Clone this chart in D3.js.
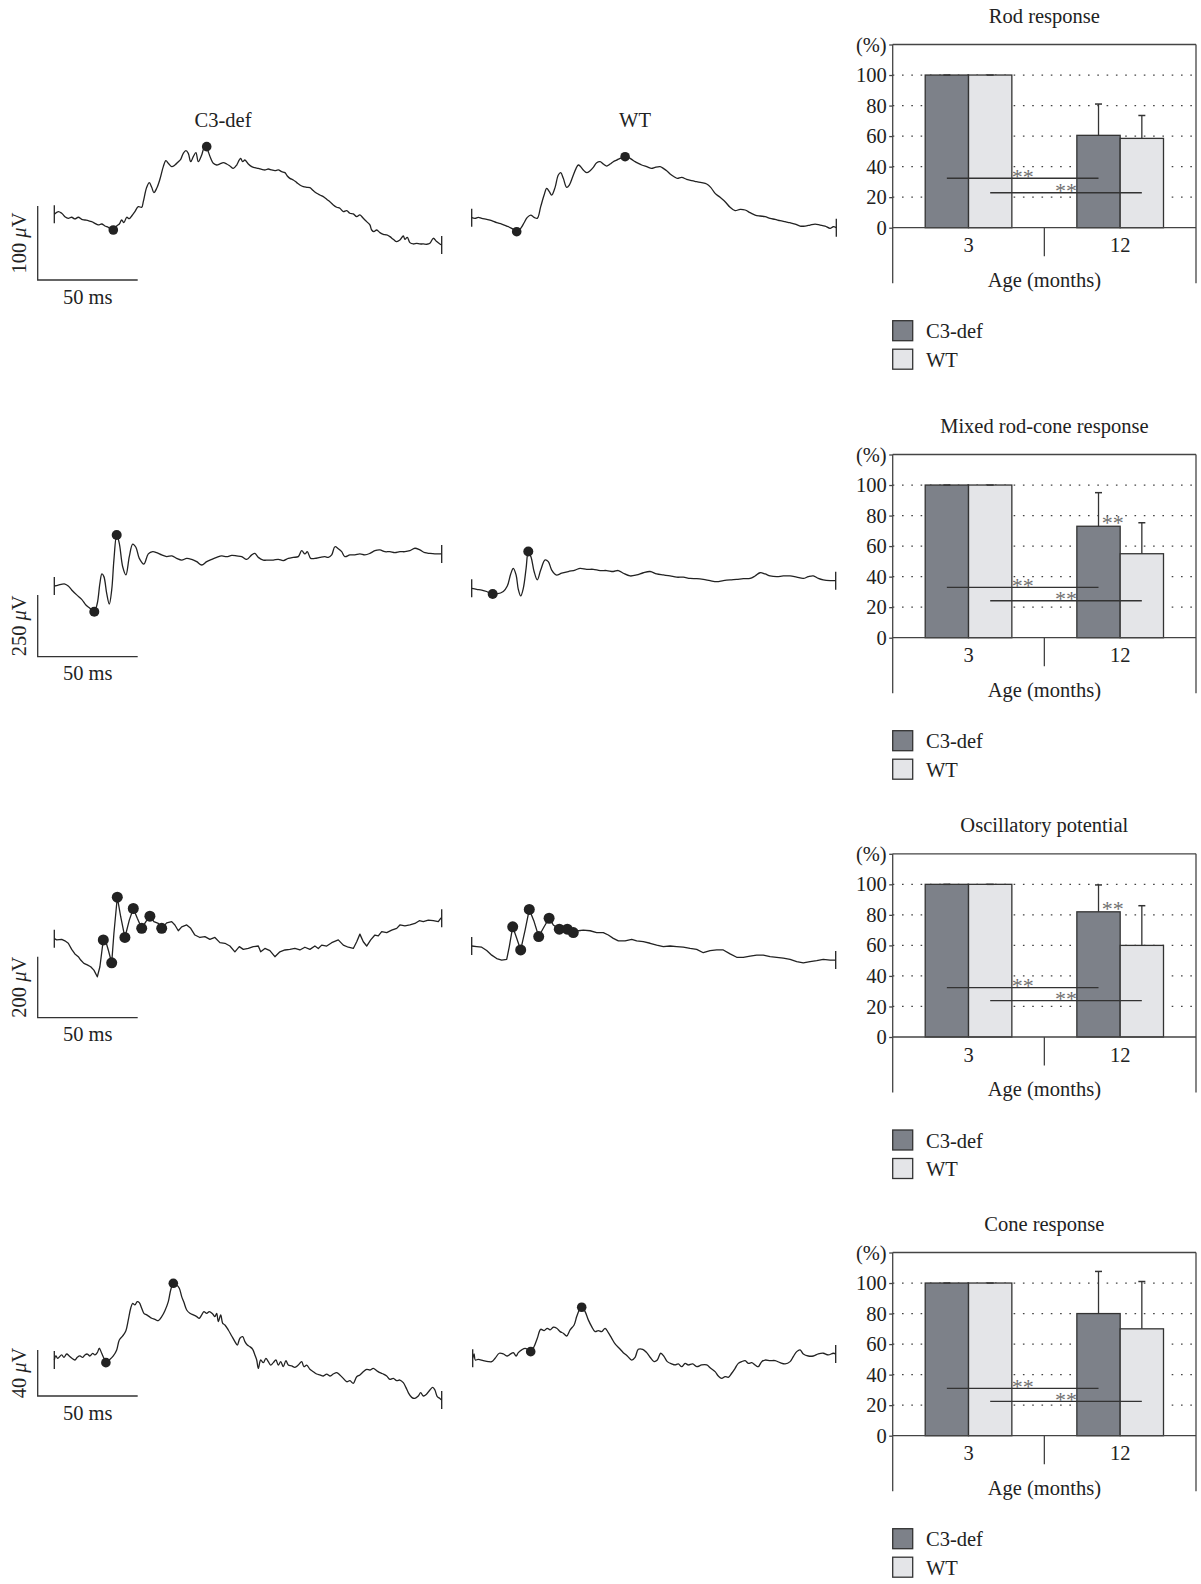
<!DOCTYPE html>
<html>
<head>
<meta charset="utf-8">
<script src="https://cdn.jsdelivr.net/npm/d3@7"></script>
<style>
body { margin:0; background:#fff; }
svg text { font-family: "Liberation Serif", "DejaVu Serif", serif; fill:#222; }
</style>
</head>
<body>
<svg id="fig" width="1201" height="1584"></svg>
<script>
// ---- bar chart data (% of 3 month value) ----
var ageGroups = ["3", "12"];
var genotypes = ["C3-def", "WT"];
var panelTitles = ["Rod response", "Mixed rod-cone response", "Oscillatory potential", "Cone response"];
var c3Mean = [[100, 60.5], [100, 73], [100, 82], [100, 80]];
var wtMean = [[100, 58.5], [100, 55], [100, 60], [100, 70]];
var c3Sd = [[0, 20.5], [0, 22], [0, 17.6], [0, 27.6]];
var wtSd = [[0, 15], [0, 20.3], [0, 26], [0, 31]];
var sigC3 = [32.4, 33, 32.3, 31];      // 3 vs 12 months, C3-def
var sigWT = [22.9, 24.2, 23.8, 22.5];  // 3 vs 12 months, WT
var sigAt12 = ["", "**", "**", ""];    // C3-def vs WT at 12 months
var yTicks = [0, 20, 40, 60, 80, 100, 120];

// ---- ERG traces [ms, µV] ----
var scaleMs = 50;
var scaleUV = [100, 250, 200, 40];

var rodC3 = [[0,0],[2,3.6],[3.7,1.4],[5.3,-3.2],[7,-5.4],[8.7,-4],[10.3,-6.3],[12,-4],[13.7,-6.8],[15.3,-7.7],[17,-8.6],[18.7,-9.9],[20.3,-12.2],[22,-14.4],[23.7,-13.1],[25.3,-15.8],[27,-17.6],[29.5,-21.2],[31.2,-15.8],[32.5,-13.1],[33.7,-7.7],[34.8,-11.3],[36.2,-4],[37.5,-5.9],[38.7,-2.3],[40.3,3.6],[42,10.4],[43.7,9.5],[44.5,17.1],[46.2,36.5],[47.5,42.8],[48.7,36.5],[49.8,29.3],[51.2,35.1],[52.8,47.3],[54.5,64.4],[55.8,72.5],[57,68.9],[58.7,64.4],[60.3,66.6],[62,71.1],[63.2,74.3],[64.5,82.4],[65.8,86],[67,82.4],[68.2,71.1],[69.5,77.9],[70.8,83.3],[72,71.1],[73.7,80.1],[74.8,89.1],[76.2,91.4],[77,84.6],[78.2,75.7],[79.5,68.9],[81.2,66.6],[82.8,68],[84.5,69.8],[86.2,68],[87.8,65.3],[89.5,62.1],[91.2,66.6],[92.5,73.4],[93.2,75.6],[94.2,71.1],[95.3,73.4],[97,68],[98.7,64.4],[100.3,63],[102,62.1],[103.7,60.8],[105.3,59.9],[107,61.2],[108.7,59.9],[110.3,59],[112,59.9],[113.7,57.6],[115.3,56.3],[116.5,51.8],[117.8,48.6],[119.5,46.4],[121.2,42.8],[122.8,39.6],[124.5,37.4],[126.2,36.5],[127.8,36],[129.5,32],[131.2,28.4],[132.8,26.1],[134.5,23.9],[136.2,20.3],[137.8,17.1],[139.5,12.6],[141.2,9.5],[142.8,8.1],[144.5,3.6],[146.2,5],[147.8,1.4],[149.5,0.5],[151.2,-3.2],[152.8,-0.9],[154.5,-5.4],[156.2,-9.9],[157.8,-14.4],[158.7,-21.2],[159.8,-23.4],[161.2,-21.2],[162.8,-24.8],[164.5,-27],[166.2,-27.9],[167.8,-30.2],[169.5,-33.8],[171.2,-36.9],[172.8,-34.7],[174.5,-29.3],[175.3,-33.8],[176.5,-31.1],[177.8,-38.3],[179.5,-40.1],[181.2,-39.2],[182.8,-40.1],[184.5,-40.1],[186.2,-40.5],[187.8,-39.2],[189.5,-32.4],[191.2,-36.9],[192.8,-40.1],[193.7,-41.4]];
var rodC3Marks = [[29.5,-21.2],[76.2,91.4]];

var rodWT = [[0,0],[1.7,-0.9],[3.3,0.5],[5,-0.9],[7.5,-2.3],[10,-4],[12.5,-6.8],[15,-8.6],[17.5,-11.3],[20,-14.4],[22.5,-18.9],[24.5,-14.4],[26.2,-6.8],[27.8,0.5],[29.5,3.6],[31.2,0.5],[32.8,-0.9],[34.5,14.9],[36.2,30.6],[37.5,39.6],[38.8,35.1],[40,30.6],[41.7,41],[43.3,57.7],[44.5,60.8],[45.8,53.2],[47.5,41],[48.8,44.1],[50.5,55.4],[52.2,66.7],[53.3,71.2],[54.5,68.9],[55.8,64.4],[57.5,60.8],[59.2,63.5],[60.8,68],[62.5,74.3],[64.2,75.7],[65.8,72.5],[67.5,69.8],[69.2,72.5],[70.8,75.7],[72.5,77.9],[74.2,80.2],[76.7,82.4],[78.3,81.5],[80,78.8],[81.7,75.7],[83.3,73.4],[85,71.2],[87.5,68.9],[90,66.7],[91.7,68],[94.2,68.9],[95.8,66.7],[97.5,63.5],[99.2,59],[101.2,55.4],[102.8,53.2],[105,54.5],[107.5,51.8],[110,50],[112.5,48.6],[115,47.3],[117.5,45.5],[119.5,41],[121.7,32.9],[124.2,27.5],[126.7,21.6],[129.2,14],[131.7,9.5],[134.2,11.3],[136.7,10.4],[139.2,6.8],[141.7,3.6],[144.2,2.3],[146.7,1.4],[149.2,-0.9],[151.7,-2.3],[154.2,-4],[156.7,-5.4],[159.2,-6.8],[161.7,-8.6],[164.2,-11.3],[166.7,-11.3],[169.2,-9.9],[171.7,-8.6],[174.2,-9.9],[176.7,-11.3],[179.2,-14.4],[180.8,-12.2],[182.3,-13.5]];
var rodWTMarks = [[22.5,-18.9],[76.7,82.4]];

var mixedC3 = [[0,0],[2,4],[5.3,8],[7,0],[8.7,-16],[11.2,-36],[13.7,-54],[15.8,-77],[17.8,-90],[20,-104],[21.5,-70],[22.8,11],[23.8,49],[24.8,38],[26.2,-30],[27.5,-73],[28.7,-16],[29.8,105],[31.2,207],[32.5,173],[34.2,78],[35.8,45],[37.5,119],[39.2,170],[40.8,157],[42.5,112],[44.8,89],[47,130],[49.2,139],[51.2,135],[53.7,126],[56.2,119],[58.8,122],[61.2,112],[63.7,105],[66.2,112],[68.7,108],[71.2,99],[73.7,85],[76.2,99],[78.7,108],[81.2,116],[83.7,122],[86.2,119],[88.7,124],[91.2,122],[93.7,119],[96.2,108],[98.7,126],[100.3,132],[102,116],[104.5,105],[107,105],[109.5,105],[112,108],[114.5,103],[117,112],[119.5,116],[122,119],[123.7,143],[125.3,130],[126.5,139],[128.2,112],[130.3,112],[132.8,116],[135.3,119],[137,116],[138.7,126],[140.3,159],[142,151],[143.7,139],[145.3,119],[147.8,126],[150.3,126],[152.8,130],[155.3,126],[157.8,132],[160.3,143],[162.8,146],[165.3,139],[167.8,139],[170.3,135],[172.8,139],[175.3,139],[177.8,143],[180.3,153],[182.8,146],[185.3,135],[187.8,132],[190.3,130],[192.8,130],[193.7,130]];
var mixedC3Marks = [[20,-104],[31.2,207]];

var mixedWT = [[0,0],[2.5,-4],[5,-7],[7.5,-13],[10,-23],[12.5,-23],[15.8,-13],[17.8,9],[19.5,58],[20.8,81],[22.2,54],[23.3,-4],[24.5,-31],[25.8,0],[27.2,81],[28.3,149],[29.7,126],[31.2,68],[32.8,34],[34.5,74],[36.7,115],[38.3,108],[40,74],[42.2,54],[45,61],[48.3,68],[51.7,74],[54.2,81],[57.5,77],[60.8,77],[64.2,72],[67.5,72],[70.8,68],[73.3,72],[75.8,61],[79.2,50],[82.5,54],[85.8,63],[89.2,68],[92.5,58],[95.8,54],[99.2,50],[102.5,45],[105.8,45],[109.2,40],[112.5,39],[115.8,36],[119.2,31],[122.5,27],[125.8,31],[129.2,34],[132.5,36],[135.8,39],[139.2,40],[141.7,50],[144.2,63],[146.7,58],[149.2,50],[152.5,47],[155.8,50],[159.2,50],[162.5,45],[165.8,40],[168.3,47],[170.8,50],[173.3,40],[175.8,34],[179.2,31],[182,31]];
var mixedWTMarks = [[10.5,-23],[28.3,149]];

var opC3 = [[0,0],[1.2,-4],[3.7,-2],[5.3,-7],[7,-15],[8.7,-35],[10.3,-50],[12,-59],[13.2,-70],[14.8,-81],[16.5,-86],[18.2,-92],[19.8,-103],[21.5,-125],[22.8,-92],[24.5,-4],[25.8,-10],[27,-37],[28.7,-79],[29.8,17],[31.5,136],[33.2,72],[35.3,4],[37.5,61],[39.5,99],[41.5,67],[43.7,34],[45.8,56],[47.8,74],[49.8,56],[52,50],[53.7,34],[56.2,52],[58.7,56],[60.3,45],[62,26],[63.7,39],[66.2,45],[68.2,34],[70.3,12],[72.8,4],[75.3,7],[77.8,-2],[80.3,4],[82.8,-13],[85.3,-15],[87.8,-24],[90.3,-43],[92.5,-26],[94.5,-35],[97,-32],[99.5,-26],[102,-24],[103.2,-43],[105.3,-32],[107.8,-39],[110.3,-59],[112.8,-43],[115.3,-37],[117.8,-35],[120.3,-32],[122.8,-37],[125.3,-28],[127.8,-35],[130.3,-24],[132,-32],[133.7,-21],[136.2,-24],[138.7,-13],[142,-4],[144.5,-21],[147,-28],[149.5,-32],[151.2,-10],[152.8,15],[154.5,-10],[156.2,-24],[158.2,-4],[160.3,12],[162,9],[163.7,23],[166.2,20],[168.7,28],[171.2,34],[172.8,45],[175.3,42],[177.8,45],[180.3,50],[182.5,59],[184.5,56],[187,61],[189.5,59],[192,56],[193.2,67],[193.7,67]];
var opC3Marks = [[24.5,-4],[28.7,-79],[31.5,136],[35.3,4],[39.5,99],[43.7,34],[47.8,74],[53.7,34]];

var opWT = [[0,0],[2.5,-2],[5,-4],[7.5,-15],[10,-30],[12.5,-41],[15,-46],[17.5,-44],[18.8,-2],[20.5,63],[22.2,31],[24.5,-13],[26.7,52],[28.8,120],[31.2,80],[33.5,31],[36.2,63],[38.7,91],[40.8,69],[43.8,55],[47.8,55],[50.8,44],[53.3,50],[55.8,52],[59.2,50],[62.5,44],[65.8,44],[68.3,36],[70.8,25],[73.3,17],[76.7,17],[80,22],[82.5,17],[85.8,14],[89.2,9],[92.5,3],[95.8,-2],[99.2,0],[102.5,-2],[105.8,-4],[109.2,-8],[112.5,-11],[115.8,-22],[119.2,-15],[122.5,-13],[125.8,-13],[129.2,-26],[132.5,-37],[135.8,-37],[139.2,-33],[142.5,-30],[145.8,-30],[149.2,-35],[152.5,-37],[155.8,-40],[159.2,-44],[162.5,-51],[165.8,-55],[169.2,-51],[172.5,-48],[175.8,-44],[179.2,-46],[182,-46]];
var opWTMarks = [[20.5,63],[24.5,-13],[28.8,120],[33.5,31],[38.7,91],[43.8,55],[47.8,55],[50.8,44]];

var coneC3 = [[0,0],[0.8,3.5],[1.7,1.5],[3.7,4.4],[4.8,2.3],[6.2,5.2],[7.5,3.5],[8.8,1.5],[10.3,0],[11.5,2.3],[12.8,3.5],[14.2,2.3],[15.3,4.4],[16.5,5.2],[17.8,3.5],[19.2,5.8],[20.3,4.4],[21.5,6.4],[22.5,10.2],[23.7,5.8],[24.8,1.5],[25.8,-2.3],[27.5,0],[29.5,3.5],[31.2,8.7],[32.5,17.4],[34.2,20.9],[35.8,25.5],[37,34.8],[38.2,45],[39.2,49.3],[40.3,47.9],[41.5,50.8],[42.5,49.9],[43.7,45],[44.8,40.6],[46.2,39.2],[47.5,37.7],[48.7,36.3],[50.3,35.4],[52,34.2],[53.7,37.7],[55.3,42.9],[57,50.8],[58.2,60.9],[59.5,66.7],[61.2,65.3],[62.5,62.4],[63.7,55.1],[64.8,50.2],[66.2,43.5],[67.8,40.6],[69.5,39.2],[71.2,37.7],[72.5,36.3],[73.7,39.2],[74.8,42.1],[76.2,40.6],[77.5,42.1],[79.2,40],[80.3,37.7],[81.2,40.6],[82,33.4],[83.2,39.2],[84.2,31.9],[85.3,30.5],[87,26.1],[88.7,20.9],[90.3,16],[91.5,13],[92.8,18.9],[94.2,20.3],[95.3,16],[96.5,13],[97.8,11.6],[99.2,9.3],[100.3,4.4],[101.2,0],[102,-7.3],[103.2,0],[104.5,-2.3],[105.8,1.5],[107,-1.5],[108.2,-4.4],[109.5,-2.3],[110.8,0],[112,-4.4],[113.2,-1.5],[114.5,-5.8],[115.8,-0.6],[117,-4.4],[118.7,-5.2],[120.3,-6.4],[122,-4.4],[123.7,-1.5],[124.8,-5.8],[126.2,-4.4],[127.8,-8.1],[129.5,-10.2],[131.2,-12.2],[132.8,-13],[134.5,-13.9],[136.2,-12.2],[137.8,-13.9],[139.5,-12.2],[141.2,-11],[142.8,-13],[144.5,-16],[146.2,-18.9],[147.8,-18],[149.5,-20.3],[151.2,-14.5],[152.8,-13],[154.5,-10.2],[156.2,-8.1],[157.8,-8.7],[159.5,-7.3],[161.2,-9.3],[162.8,-11],[164.5,-12.2],[166.2,-13.9],[167.8,-16.8],[169.5,-16],[171.2,-18],[172.8,-17.4],[174.5,-19.7],[175.8,-23.8],[177,-28.4],[178.7,-32.5],[180.3,-33.4],[182,-31.3],[183.2,-28.4],[184.5,-31.3],[186.2,-29.6],[187.8,-26.1],[189.2,-23.8],[190.3,-26.1],[191.5,-31.9],[192.8,-33.4],[193.7,-34.8]];
var coneC3Marks = [[25.8,-2.3],[59.5,66.7]];

var coneWT = [[0,0],[0.7,3.8],[1.3,-1.5],[2.8,-0.9],[5.3,-2],[7.8,-2.9],[9.5,-2.9],[11.2,0],[13.3,4.4],[15.3,3.8],[17.3,2],[19,3.8],[20.3,4.9],[21.7,2],[22.8,4.9],[24.5,7.3],[26.2,8.7],[27.8,7.3],[29,5.8],[30.7,10.2],[32.3,17.4],[34,25.2],[35.7,24.1],[37.3,26.1],[38.7,24.7],[40.3,27],[42,26.1],[43.7,23.2],[45.3,21.8],[47,19.4],[48.7,24.7],[50.7,29],[52,36.3],[53.3,42],[54.5,44.4],[56.2,40.6],[57.8,33.4],[59.5,27.6],[61.2,23.2],[62.8,24.1],[64.5,23.2],[66.2,26.1],[67.8,22.3],[69.5,17.4],[71.2,12.5],[73.3,8.7],[75.3,4.9],[77.3,2],[79.5,-1.5],[81.2,0.9],[82.8,7.8],[85,7.8],[87,4.9],[88.7,0.9],[90.7,-2.9],[92.3,-1.5],[94,4.4],[95.7,1.5],[97.3,-2.9],[99.5,-4.9],[101.2,-5.8],[102.8,-4.9],[104.5,-7.3],[106.2,-4.4],[107.8,-5.8],[110,-4.9],[112,-7.3],[114.5,-5.8],[117,-5.8],[119,-8.7],[121.2,-11.6],[122.8,-15.4],[124.5,-17.4],[126.2,-15.9],[127.8,-16.5],[129.5,-13],[131.2,-8.7],[132.8,-4.4],[134.5,-2.9],[136.2,-2],[137.8,-4.4],[139.5,-3.8],[141.2,-5.8],[142.8,-7.3],[144.5,-2.9],[146.2,-1.5],[148.7,-2],[151.2,-2],[153.7,-3.8],[156.2,-4.9],[158.7,-2.9],[160.3,1.5],[162,5.8],[163.7,7.3],[165.3,3.8],[167.8,2],[170.3,2],[172.8,3.8],[175.3,4.4],[177.8,2.9],[180.3,4.4],[181.5,3.8]];
var coneWTMarks = [[29,5.8],[54.5,44.4]];

// ---- drawing ----
var svg = d3.select('#fig');
svg.append('rect').attr('width', 1201).attr('height', 1584).attr('fill', '#fff');

var ink = '#222';
var fontSize = '20.5px';
var starSize = '22px';
var starColor = '#6f6f6f';

var traceRows = [
	{c3: rodC3, c3m: rodC3Marks, wt: rodWT, wtm: rodWTMarks},
	{c3: mixedC3, c3m: mixedC3Marks, wt: mixedWT, wtm: mixedWTMarks},
	{c3: opC3, c3m: opC3Marks, wt: opWT, wtm: opWTMarks},
	{c3: coneC3, c3m: coneC3Marks, wt: coneWT, wtm: coneWTMarks}
];
var rowY0C3 = [214.3, 586, 938.7, 1360];
var rowY0WT = [217.7, 588.3, 946, 1358.3];
var rowX0WT = [471.7, 471.7, 471.7, 472.7];
var barBottom = [280, 656.7, 1017.7, 1396];
var barPx = [74, 61.7, 61, 46];
var dotR = [4.8, 5, 5.5, 4.8];

function drawTrace(pts, marks, x0, y0, row) {
	var g = svg.append('g');
	var x = d3.scaleLinear().domain([0, scaleMs]).range([x0, x0 + 100]);
	var y = d3.scaleLinear().domain([0, scaleUV[row]]).range([y0, y0 - barPx[row]]);
	var curve = row == 2 ? d3.curveLinear : d3.curveCatmullRom.alpha(0.5);
	var line = d3.line()
		.x(function(d){ return x(d[0]); })
		.y(function(d){ return y(d[1]); })
		.curve(curve);
	g.append('path')
		.datum(pts)
		.attr('d', line)
		.attr('fill', 'none')
		.attr('stroke', ink)
		.attr('stroke-width', 1.3)
		.attr('stroke-linejoin', 'round');
	// end markers
	g.selectAll('line.end')
		.data([pts[0], pts[pts.length - 1]])
	  .enter().append('line')
		.attr('x1', function(d){ return x(d[0]); })
		.attr('x2', function(d){ return x(d[0]); })
		.attr('y1', function(d){ return y(d[1]) - 9; })
		.attr('y2', function(d){ return y(d[1]) + 9; })
		.attr('stroke', ink)
		.attr('stroke-width', 1.3);
	g.selectAll('circle')
		.data(marks)
	  .enter().append('circle')
		.attr('cx', function(d){ return x(d[0]); })
		.attr('cy', function(d){ return y(d[1]); })
		.attr('r', dotR[row])
		.attr('fill', ink);
}

function drawScaleBar(row) {
	var g = svg.append('g');
	var sx = d3.scaleLinear().domain([0, scaleMs]).range([37.7, 137.7]);
	var sy = d3.scaleLinear().domain([0, scaleUV[row]]).range([barBottom[row], barBottom[row] - barPx[row]]);
	g.append('path')
		.attr('d', 'M' + sx(0) + ',' + sy(scaleUV[row]) + 'L' + sx(0) + ',' + sy(0) + 'L' + sx(scaleMs) + ',' + sy(0))
		.attr('fill', 'none')
		.attr('stroke', '#333')
		.attr('stroke-width', 1.3);
	g.append('text')
		.attr('x', sx(scaleMs / 2))
		.attr('y', sy(0) + 23.5)
		.attr('text-anchor', 'middle')
		.style('font-size', fontSize)
		.text(scaleMs + ' ms');
	var t = g.append('text')
		.attr('transform', 'translate(26,' + (sy(0) + sy(scaleUV[row])) / 2 + ') rotate(-90)')
		.attr('text-anchor', 'middle')
		.style('font-size', fontSize);
	t.append('tspan').text(scaleUV[row] + ' ');
	t.append('tspan').attr('font-style', 'italic').text('\u03bc');
	t.append('tspan').text('V');
}

for (var r = 0; r < traceRows.length; r++) {
	drawTrace(traceRows[r].c3, traceRows[r].c3m, 54.3, rowY0C3[r], r);
	drawTrace(traceRows[r].wt, traceRows[r].wtm, rowX0WT[r], rowY0WT[r], r);
	drawScaleBar(r);
}

svg.append('text').attr('x', 223).attr('y', 126.7).attr('text-anchor', 'middle')
	.style('font-size', fontSize).text(genotypes[0]);
svg.append('text').attr('x', 635).attr('y', 126.7).attr('text-anchor', 'middle')
	.style('font-size', fontSize).text(genotypes[1]);

// ---- bar charts ----
var zeroY = [227.7, 637.7, 1037, 1435.7];
var left = 892.7, right = 1196;
var fillC = {"C3-def": '#7d8189', "WT": '#e4e5e8'};

function drawBars(i) {
	var Y0 = zeroY[i];
	var g = svg.append('g');
	var y = d3.scaleLinear().domain([0, 120]).range([Y0, Y0 - 183.2]);
	var x0 = d3.scaleBand().domain(ageGroups).range([left, right]).paddingInner(0.4286).paddingOuter(0.2143);
	var x1 = d3.scaleBand().domain(genotypes).range([0, x0.bandwidth()]);
	var means = {"C3-def": c3Mean[i], "WT": wtMean[i]};
	var sds = {"C3-def": c3Sd[i], "WT": wtSd[i]};
	function cx(age, gen){ return x0(age) + x1(gen) + x1.bandwidth() / 2; }

	g.append('text')
		.attr('x', (left + right) / 2)
		.attr('y', Y0 - 205)
		.attr('text-anchor', 'middle')
		.style('font-size', fontSize)
		.text(panelTitles[i]);

	// dotted grid
	g.selectAll('line.grid')
		.data([20, 40, 60, 80, 100])
	  .enter().append('line')
		.attr('x1', left).attr('x2', right)
		.attr('y1', function(d){ return y(d); })
		.attr('y2', function(d){ return y(d); })
		.attr('stroke', '#444')
		.attr('stroke-width', 1.2)
		.attr('stroke-dasharray', '1.6 7.7');

	// bars
	var cells = [];
	ageGroups.forEach(function(a, ai){
		genotypes.forEach(function(gname){
			cells.push({age: a, gen: gname, v: means[gname][ai], sd: sds[gname][ai]});
		});
	});
	g.selectAll('rect.bar')
		.data(cells)
	  .enter().append('rect')
		.attr('x', function(d){ return x0(d.age) + x1(d.gen); })
		.attr('y', function(d){ return y(d.v); })
		.attr('width', x1.bandwidth())
		.attr('height', function(d){ return Y0 - y(d.v); })
		.attr('fill', function(d){ return fillC[d.gen]; })
		.attr('stroke', '#333')
		.attr('stroke-width', 1.3);

	// error bars (upper)
	g.selectAll('line.err')
		.data(cells)
	  .enter().append('line')
		.attr('x1', function(d){ return cx(d.age, d.gen); })
		.attr('x2', function(d){ return cx(d.age, d.gen); })
		.attr('y1', function(d){ return y(d.v); })
		.attr('y2', function(d){ return y(d.v + d.sd); })
		.attr('stroke', '#333').attr('stroke-width', 1.3);
	g.selectAll('line.cap')
		.data(cells)
	  .enter().append('line')
		.attr('x1', function(d){ return cx(d.age, d.gen) - 3.5; })
		.attr('x2', function(d){ return cx(d.age, d.gen) + 3.5; })
		.attr('y1', function(d){ return y(d.v + d.sd); })
		.attr('y2', function(d){ return y(d.v + d.sd); })
		.attr('stroke', '#333').attr('stroke-width', 1.5);

	// frame
	var frame = '#444';
	g.append('line').attr('x1', left).attr('x2', right).attr('y1', y(120)).attr('y2', y(120)).attr('stroke', frame).attr('stroke-width', 1.3);
	g.append('line').attr('x1', left).attr('x2', right).attr('y1', Y0).attr('y2', Y0).attr('stroke', frame).attr('stroke-width', 1.3);
	g.append('line').attr('x1', left).attr('x2', left).attr('y1', y(120)).attr('y2', Y0 + 55.5).attr('stroke', frame).attr('stroke-width', 1.3);
	g.append('line').attr('x1', right).attr('x2', right).attr('y1', y(120)).attr('y2', Y0 + 55.5).attr('stroke', frame).attr('stroke-width', 1.3);
	var mid = (x0(ageGroups[0]) + x0.bandwidth() + x0(ageGroups[1])) / 2;
	g.append('line').attr('x1', mid).attr('x2', mid).attr('y1', Y0).attr('y2', Y0 + 28.5).attr('stroke', frame).attr('stroke-width', 1.3);

	// y axis
	var ya = g.append('g')
		.attr('transform', 'translate(' + left + ',0)')
		.call(d3.axisLeft(y).tickValues(yTicks).tickSize(3.5).tickPadding(2.5).tickSizeOuter(0)
			.tickFormat(function(d){ return d == 120 ? '(%)' : d; }));
	ya.select('.domain').remove();
	ya.attr('font-family', null).attr('font-size', null);
	ya.selectAll('line').attr('stroke', frame).attr('stroke-width', 1.3);
	ya.selectAll('text').style('font-size', fontSize).attr('fill', ink);

	// x axis labels
	var xa = g.append('g')
		.attr('transform', 'translate(0,' + Y0 + ')')
		.call(d3.axisBottom(x0).tickSize(0).tickPadding(10));
	xa.select('.domain').remove();
	xa.attr('font-family', null).attr('font-size', null);
	xa.selectAll('text').style('font-size', fontSize).attr('fill', ink);

	g.append('text')
		.attr('x', mid)
		.attr('y', Y0 + 59)
		.attr('text-anchor', 'middle')
		.style('font-size', fontSize)
		.text('Age (months)');

	// significance lines
	var sig = [{gen: 'C3-def', v: sigC3[i]}, {gen: 'WT', v: sigWT[i]}];
	g.selectAll('line.sig')
		.data(sig)
	  .enter().append('line')
		.attr('x1', function(d){ return cx(ageGroups[0], d.gen); })
		.attr('x2', function(d){ return cx(ageGroups[1], d.gen); })
		.attr('y1', function(d){ return y(d.v); })
		.attr('y2', function(d){ return y(d.v); })
		.attr('stroke', '#333').attr('stroke-width', 1.3);
	g.selectAll('text.sig')
		.data(sig)
	  .enter().append('text')
		.attr('x', function(d){ return (cx(ageGroups[0], d.gen) + cx(ageGroups[1], d.gen)) / 2; })
		.attr('y', function(d){ return y(d.v) + 5.5; })
		.attr('text-anchor', 'middle')
		.style('font-size', starSize)
		.style('fill', starColor)
		.text('**');
	if (sigAt12[i]) {
		g.append('text')
			.attr('x', x0(ageGroups[1]) + x1(genotypes[0]) + x1.bandwidth() * 0.83)
			.attr('y', y(c3Mean[i][1]) + 4)
			.attr('text-anchor', 'middle')
			.style('font-size', starSize)
			.style('fill', starColor)
			.text(sigAt12[i]);
	}

	// legend
	var lg = g.selectAll('g.leg')
		.data(genotypes)
	  .enter().append('g')
		.attr('transform', function(d, k){ return 'translate(' + left + ',' + (Y0 + 93 + k * 28.5) + ')'; });
	lg.append('rect')
		.attr('width', 20).attr('height', 20)
		.attr('fill', function(d){ return fillC[d]; })
		.attr('stroke', '#333').attr('stroke-width', 1.3);
	lg.append('text')
		.attr('x', 33.3).attr('y', 17.5)
		.style('font-size', fontSize)
		.text(function(d){ return d; });
}

for (var i = 0; i < panelTitles.length; i++) drawBars(i);
</script>
</body>
</html>
